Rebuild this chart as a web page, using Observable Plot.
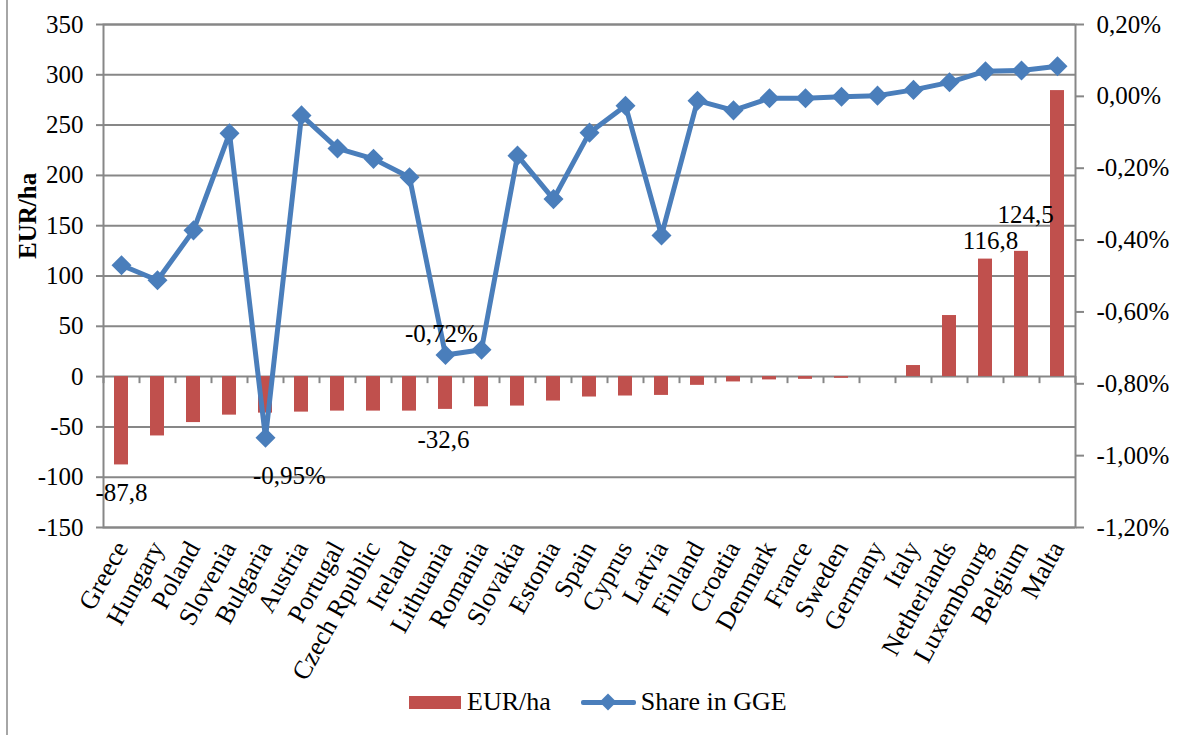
<!DOCTYPE html>
<html>
<head>
<meta charset="utf-8">
<script src="https://cdn.jsdelivr.net/npm/d3@7"></script>
<script src="https://cdn.jsdelivr.net/npm/@observablehq/plot@0.6"></script>
<style>
  html, body { margin: 0; padding: 0; background: #fff; }
  #wrap { position: relative; width: 1180px; height: 735px; overflow: hidden; font-family: "Liberation Serif", "DejaVu Serif", serif; }
  #border { position: absolute; left: 6px; top: 0; width: 2px; height: 735px; background: #a6a6a6; }
  #chart { position: absolute; left: 0; top: 0; }
  #chart svg, #chart svg text { font-family: "Liberation Serif", "DejaVu Serif", serif !important; }
  #legend { position: absolute; left: 409px; top: 686px; height: 32px; display: flex; align-items: center; font-size: 26px; color: #000; white-space: nowrap; }
  .sw-bar { width: 52px; height: 13px; background: #C0504D; margin-right: 6px; }
  .sw-line { position: relative; width: 55px; height: 26px; margin-left: 30px; margin-right: 5px; }
  .sw-line .ln { position: absolute; left: 0; top: 11px; width: 55px; height: 5px; background: #4A7EBB; border-radius: 2px; }
  .sw-line .dm { position: absolute; left: 21px; top: 7px; width: 12px; height: 12px; background: #4A7EBB; transform: rotate(45deg); }
</style>
</head>
<body>
<div id="wrap">
  <div id="border"></div>
  <div id="chart"></div>
  <div id="legend">
    <div class="sw-bar"></div><span>EUR/ha</span>
    <div class="sw-line"><div class="ln"></div><div class="dm"></div></div><span>Share in GGE</span>
  </div>
</div>
<script>
// ---- data ----
const countries = ["Greece","Hungary","Poland","Slovenia","Bulgaria","Austria","Portugal","Czech Rpublic","Ireland","Lithuania","Romania","Slovakia","Estonia","Spain","Cyprus","Latvia","Finland","Croatia","Denmark","France","Sweden","Germany","Italy","Netherlands","Luxembourg","Belgium","Malta"];
const eurHa = [-87.8,-59,-45.7,-38.3,-36.3,-35.3,-34.3,-34.3,-34.3,-32.6,-30,-29.3,-24.3,-20.3,-19.3,-18.7,-8.7,-5.3,-3.3,-2.7,-1.7,0,11,60.7,116.8,124.5,284.3];
const shareGGE = [-0.47,-0.512,-0.373,-0.103,-0.95,-0.053,-0.145,-0.174,-0.225,-0.72,-0.705,-0.165,-0.286,-0.101,-0.026,-0.387,-0.012,-0.039,-0.005,-0.005,-0.001,0.002,0.018,0.039,0.070,0.072,0.084];
const leftTicks = [-150,-100,-50,0,50,100,150,200,250,300,350];
const rightTicks = [0.2,0,-0.2,-0.4,-0.6,-0.8,-1.0,-1.2];
const barLabels = [
  {country: "Greece", value: -87.8, text: "-87,8", dx: 0, dy: 28},
  {country: "Lithuania", value: -32.6, text: "-32,6", dx: -2, dy: 31},
  {country: "Luxembourg", value: 116.8, text: "116,8", dx: 5, dy: -18},
  {country: "Belgium", value: 124.5, text: "124,5", dx: 4, dy: -36}
];
const lineLabels = [
  {country: "Bulgaria", value: -0.95, text: "-0,95%", dx: 24, dy: 38},
  {country: "Lithuania", value: -0.72, text: "-0,72%", dx: -4, dy: -21}
];

// ---- secondary axis mapping: [-1.2%, 0.2%] -> [-150, 350] ----
const leftMin = -150, leftMax = 350, rMin = -1.2, rMax = 0.2;
const toLeft = p => leftMin + (p - rMin) / (rMax - rMin) * (leftMax - leftMin);
const fmtPct = p => (Math.abs(p) < 1e-9 ? "0,00" : p.toFixed(2).replace(".", ",")) + "%";

const rows = countries.map((c, i) => ({country: c, eur: eurHa[i], share: shareGGE[i]}));

const W = 1180, H = 735, mL = 103, mR = 105, mT = 24, mB = 208;
const step = (W - mL - mR) / countries.length;
const serif = "Liberation Serif, DejaVu Serif, serif";
const blue = "#4A7EBB", red = "#C0504D", grid = "#878787";
const fs = 25;

const chart = Plot.plot({
  width: W, height: H,
  marginLeft: mL, marginRight: mR, marginTop: mT, marginBottom: mB,
  style: {fontFamily: serif, fontSize: fs + "px", color: "#000", background: "transparent"},
  x: {domain: countries, paddingInner: 0.6, paddingOuter: 0.3, align: 0.5, label: null},
  y: {domain: [leftMin, leftMax], label: null},
  marks: [
    Plot.gridY(leftTicks, {stroke: grid, strokeOpacity: 1, strokeWidth: 2}),
    Plot.frame({stroke: grid, strokeWidth: 2}),
    Plot.barY(rows, {x: "country", y: "eur", fill: red}),
    Plot.ruleX(countries, {x: d => d, dx: -step / 2, y1: 0, y2: -7, stroke: grid, strokeWidth: 2}),
    Plot.ruleX([countries[countries.length - 1]], {x: d => d, dx: step / 2, y1: 0, y2: -7, stroke: grid, strokeWidth: 2}),
    Plot.line(rows, {x: "country", y: d => toLeft(d.share), stroke: blue, strokeWidth: 5, strokeLinejoin: "miter"}),
    Plot.dot(rows, {x: "country", y: d => toLeft(d.share), symbol: "square", rotate: 45, r: 8, fill: blue, stroke: "none"}),
    Plot.axisY(leftTicks, {anchor: "left", tickSize: 7, tickPadding: 13, stroke: grid, strokeWidth: 2, fontFamily: serif, fontSize: fs, tickFormat: d => String(d), label: null}),
    Plot.axisY(rightTicks.map(toLeft), {anchor: "right", tickSize: 8, tickPadding: 13, stroke: grid, strokeWidth: 2, fontFamily: serif, fontSize: fs,
      tickFormat: v => fmtPct(rMin + (v - leftMin) / (leftMax - leftMin) * (rMax - rMin)), label: null}),
    Plot.axisX({anchor: "bottom", tickSize: 0, tickPadding: 16, tickRotate: -61, fontFamily: serif, fontSize: 26, label: null}),
    Plot.text(["EUR/ha"], {frameAnchor: "left", dx: -76, dy: -17, rotate: -90, fontWeight: "bold", fontSize: fs, fontFamily: serif}),
    ...barLabels.map(l => Plot.text([l], {x: "country", y: "value", text: "text", dx: l.dx, dy: l.dy, fill: "#000", fontFamily: serif, fontSize: fs})),
    ...lineLabels.map(l => Plot.text([l], {x: "country", y: d => toLeft(d.value), text: "text", dx: l.dx, dy: l.dy, fill: "#000", fontFamily: serif, fontSize: fs}))
  ]
});
document.getElementById("chart").appendChild(chart);
</script>
</body>
</html>
